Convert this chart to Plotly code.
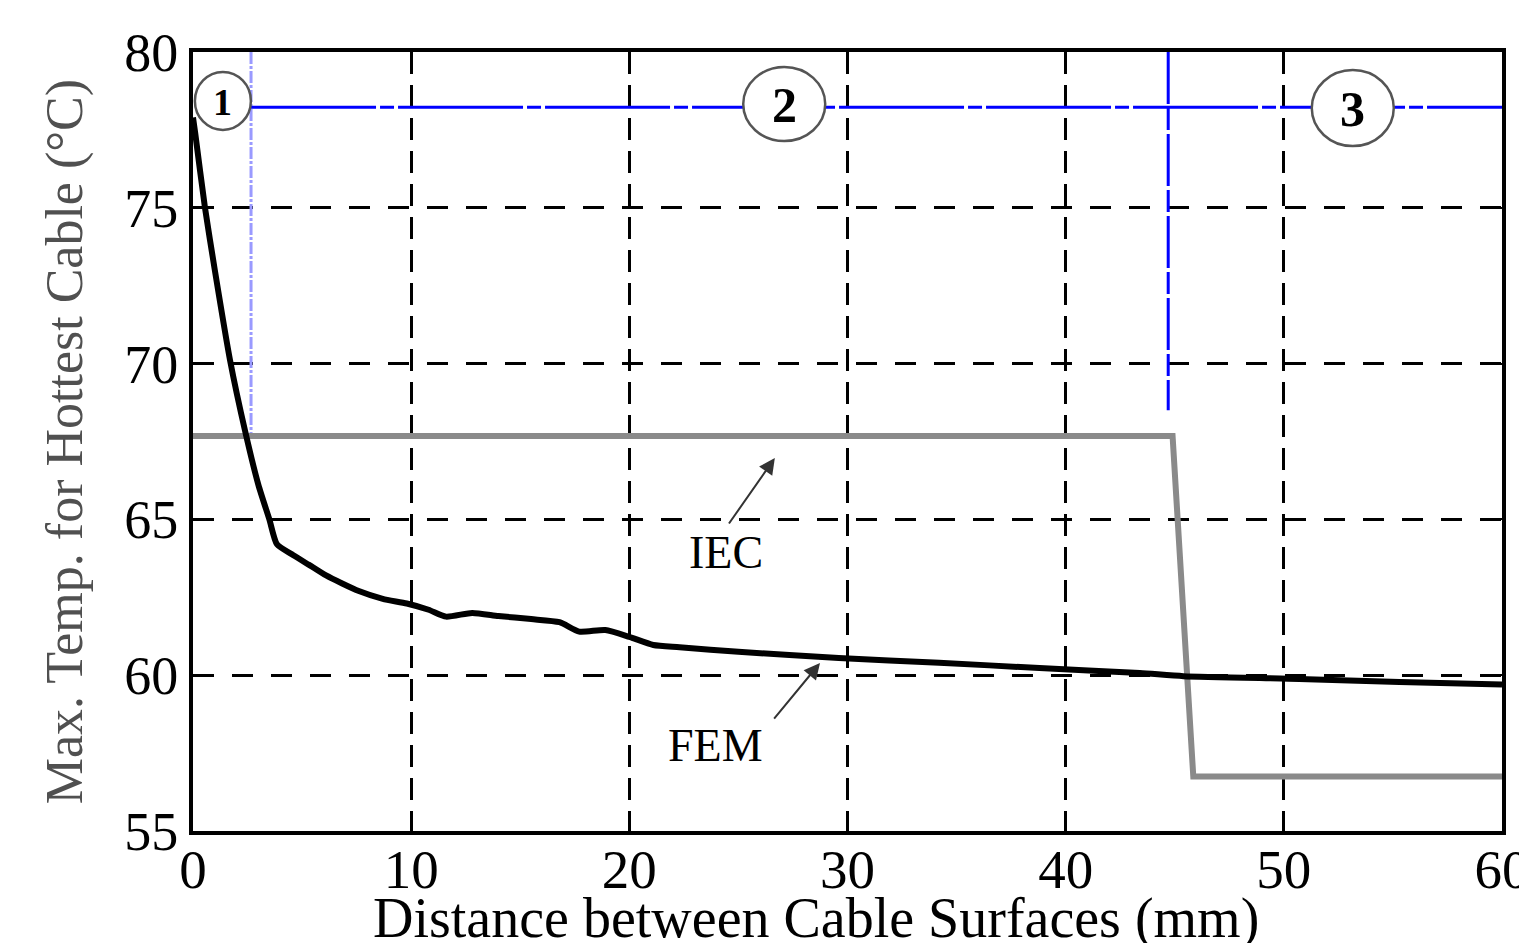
import plotly.graph_objects as go

# FEM curve (max temperature vs distance)
fem_x = [0, 0.1, 0.55, 1.0, 1.7, 2.4, 3.0, 3.5, 3.85, 4.6, 5.3, 6.1, 7.6, 8.7, 9.8,
         10.8, 11.6, 12.8, 14.0, 15.5, 16.8, 17.7, 18.9, 20.0, 21.1, 22.3, 25.0,
         29.6, 34.2, 38.8, 43.4, 45.4, 50.7, 55.3, 60.0]
fem_y = [77.9, 77.4, 75.0, 73.0, 70.1, 67.8, 66.1, 65.0, 64.2, 63.85, 63.55, 63.2,
         62.7, 62.45, 62.3, 62.1, 61.88, 62.0, 61.9, 61.8, 61.7, 61.4, 61.45, 61.23,
         60.97, 60.9, 60.75, 60.55, 60.4, 60.23, 60.07, 59.97, 59.88, 59.78, 59.7]

# IEC curve
iec_x = [0, 44.9, 45.85, 60]
iec_y = [67.68, 67.68, 56.75, 56.75]

# Zone boundaries
zone_b1_x = 2.66
zone_b2_x = 44.7
zone_line_y = 78.23
zone_b1_bottom = 67.68
zone_b2_bottom = 68.5

zone_labels = ["1", "2", "3"]
zone_x = [1.37, 27.1, 53.16]
zone_y = [78.43, 78.33, 78.2]

x_ticks = [0, 10, 20, 30, 40, 50, 60]
y_ticks = [55, 60, 65, 70, 75, 80]

serif = "Liberation Serif, Times New Roman, serif"

fig = go.Figure()

# Zone boundary lines
fig.add_trace(go.Scatter(x=[zone_b1_x, zone_b1_x], y=[80, zone_b1_bottom], mode="lines",
                         line=dict(color="#9a9aff", width=3, dash="12px,2px,3px,2px"),
                         showlegend=False, hoverinfo="skip"))
fig.add_trace(go.Scatter(x=[zone_b2_x, zone_b2_x], y=[80, zone_b2_bottom], mode="lines",
                         line=dict(color="#0000ff", width=3, dash="52px,4px,22px,4px"),
                         showlegend=False, hoverinfo="skip"))
fig.add_trace(go.Scatter(x=[zone_b1_x, 60], y=[zone_line_y, zone_line_y], mode="lines",
                         line=dict(color="#0000ff", width=3, dash="125px,4px,14px,4px"),
                         showlegend=False, hoverinfo="skip"))

# IEC
fig.add_trace(go.Scatter(x=iec_x, y=iec_y, mode="lines",
                         line=dict(color="#8a8a8a", width=6),
                         showlegend=False, hoverinfo="skip"))
# FEM
fig.add_trace(go.Scatter(x=fem_x, y=fem_y, mode="lines",
                         line=dict(color="black", width=6, shape="spline", smoothing=0.6),
                         showlegend=False, hoverinfo="skip"))

# Zone circles
radii = [(28, 29), (41, 37), (41, 38)]
sizes = [38, 50, 50]
for lab, zx, zy, (rx, ry), fs in zip(zone_labels, zone_x, zone_y, radii, sizes):
    fig.add_shape(type="circle", xref="x", yref="y", xsizemode="pixel", ysizemode="pixel",
                  xanchor=zx, yanchor=zy, x0=-rx, x1=rx, y0=-ry, y1=ry,
                  line=dict(color="#555555", width=2.5), fillcolor="white", layer="above")
    fig.add_annotation(x=zx, y=zy, text="<b>" + lab + "</b>", showarrow=False,
                       xref="x", yref="y",
                       font=dict(family=serif, size=fs, color="black"), yshift=-1)

# Arrows and labels
fig.add_annotation(x=26.67, y=66.97, ax=24.52, ay=64.82, axref="x", ayref="y",
                   xref="x", yref="y", text="", showarrow=True, arrowhead=2,
                   arrowsize=1.6, arrowwidth=2, arrowcolor="#333333")
fig.add_annotation(x=28.74, y=60.39, ax=26.58, ay=58.56, axref="x", ayref="y",
                   xref="x", yref="y", text="", showarrow=True, arrowhead=2,
                   arrowsize=1.6, arrowwidth=2, arrowcolor="#333333")
fig.add_annotation(x=24.45, y=63.95, text="IEC", showarrow=False, xref="x", yref="y",
                   font=dict(family=serif, size=46, color="black"))
fig.add_annotation(x=23.97, y=57.76, text="FEM", showarrow=False, xref="x", yref="y",
                   font=dict(family=serif, size=46, color="black"))

# Axis titles
fig.add_annotation(x=0.476, y=-0.155, xref="paper", yref="paper", yanchor="bottom",
                   xanchor="center",
                   text="Distance between Cable Surfaces (mm)", showarrow=False,
                   font=dict(family=serif, size=56, color="black"))
fig.add_annotation(x=-0.098, y=0.5, xref="paper", yref="paper", textangle=-90,
                   xanchor="center", yanchor="middle",
                   text="Max. Temp. for Hottest Cable (°C)", showarrow=False,
                   font=dict(family=serif, size=52, color="#505050"))

fig.update_xaxes(range=[0, 60], tickvals=x_ticks, ticktext=[str(v) for v in x_ticks],
                 showline=True, linecolor="black", linewidth=4, mirror="ticks",
                 ticks="inside", ticklen=7, tickwidth=2, tickcolor="black",
                 showgrid=True, gridcolor="black", gridwidth=3, griddash="22px,11px",
                 zeroline=False, ticklabelstandoff=-13, ticklabeloverflow="allow",
                 automargin=False,
                 tickfont=dict(family=serif, size=55, color="black"))
fig.update_yaxes(range=[55, 80], tickvals=y_ticks, ticktext=[str(v) for v in y_ticks],
                 showline=True, linecolor="black", linewidth=4, mirror="ticks",
                 ticks="inside", ticklen=7, tickwidth=2, tickcolor="black",
                 showgrid=True, gridcolor="black", gridwidth=3, griddash="21px,18px",
                 zeroline=False, automargin=False,
                 tickfont=dict(family=serif, size=54, color="black"))

fig.update_layout(width=1511, height=935, margin=dict(l=185, r=17, t=44, b=112,
                                                      autoexpand=False),
                  plot_bgcolor="white", paper_bgcolor="white", showlegend=False)

fig.write_html("out.html")
